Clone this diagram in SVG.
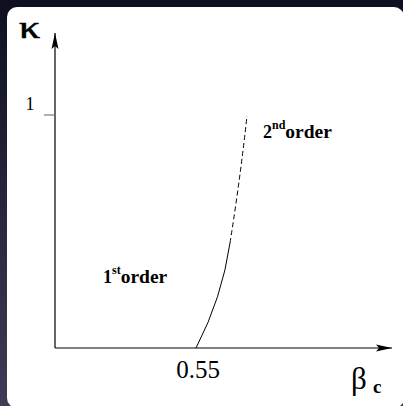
<svg xmlns="http://www.w3.org/2000/svg" width="403" height="406" viewBox="0 0 403 406">
<defs>
<linearGradient id="bg" x1="0" y1="0" x2="0" y2="1">
<stop offset="0" stop-color="#0f0f22"/>
<stop offset="1" stop-color="#3e3c56"/>
</linearGradient>
<marker id="arr" markerWidth="17" markerHeight="9" refX="16" refY="4.5" orient="auto" markerUnits="userSpaceOnUse">
<path d="M0,1 L16,4.5 L0,8 L3,4.5 Z" fill="#000"/>
</marker>
<style>
.ax{stroke:#000;stroke-width:1.2;fill:none}
.cv{stroke:#000;stroke-width:1;fill:none}
.serif{font-family:"Liberation Serif","Times New Roman",serif;fill:#000}
.bold{font-family:"Liberation Serif","Times New Roman",serif;font-weight:bold;fill:#000}
</style>
</defs>
<rect x="0" y="0" width="403" height="406" fill="url(#bg)"/>
<rect x="7" y="7" width="397" height="401" rx="10" fill="#fff"/>
<g id="connectors">
<line class="ax" x1="55" y1="348" x2="55" y2="33" marker-end="url(#arr)"/>
<line class="ax" x1="55" y1="348" x2="392" y2="348" marker-end="url(#arr)"/>
<line x1="44" y1="115" x2="55" y2="115" stroke="#777" stroke-width="1.2"/>
<path class="cv" d="M196,348 Q222,298 230,243"/>
<path class="cv" d="M230,243 Q240,180 247,116" stroke-dasharray="5,3"/>
</g>
<g id="kappa-label"><text class="serif" x="0" y="0" font-size="31" stroke="#000" stroke-width="0.6" transform="translate(19,38) scale(1.35,1)">κ</text></g>
<g id="tick-one"><text class="serif" x="30" y="110" font-size="18" text-anchor="middle">1</text></g>
<g id="tick-055"><text class="serif" x="198" y="378" font-size="25" text-anchor="middle">0.55</text></g>
<g id="beta-label"><text class="serif" x="351" y="389" font-size="31">β</text><text class="bold" x="373" y="393" font-size="19">c</text></g>
<g id="first-order"><text class="bold" x="103" y="283" font-size="18">1<tspan dy="-9" font-size="12">st</tspan><tspan dy="9" font-size="19.5">order</tspan></text></g>
<g id="second-order"><text class="bold" x="263" y="138" font-size="18">2<tspan dy="-9" font-size="12">nd</tspan><tspan dy="9" font-size="19.5">order</tspan></text></g>
</svg>
